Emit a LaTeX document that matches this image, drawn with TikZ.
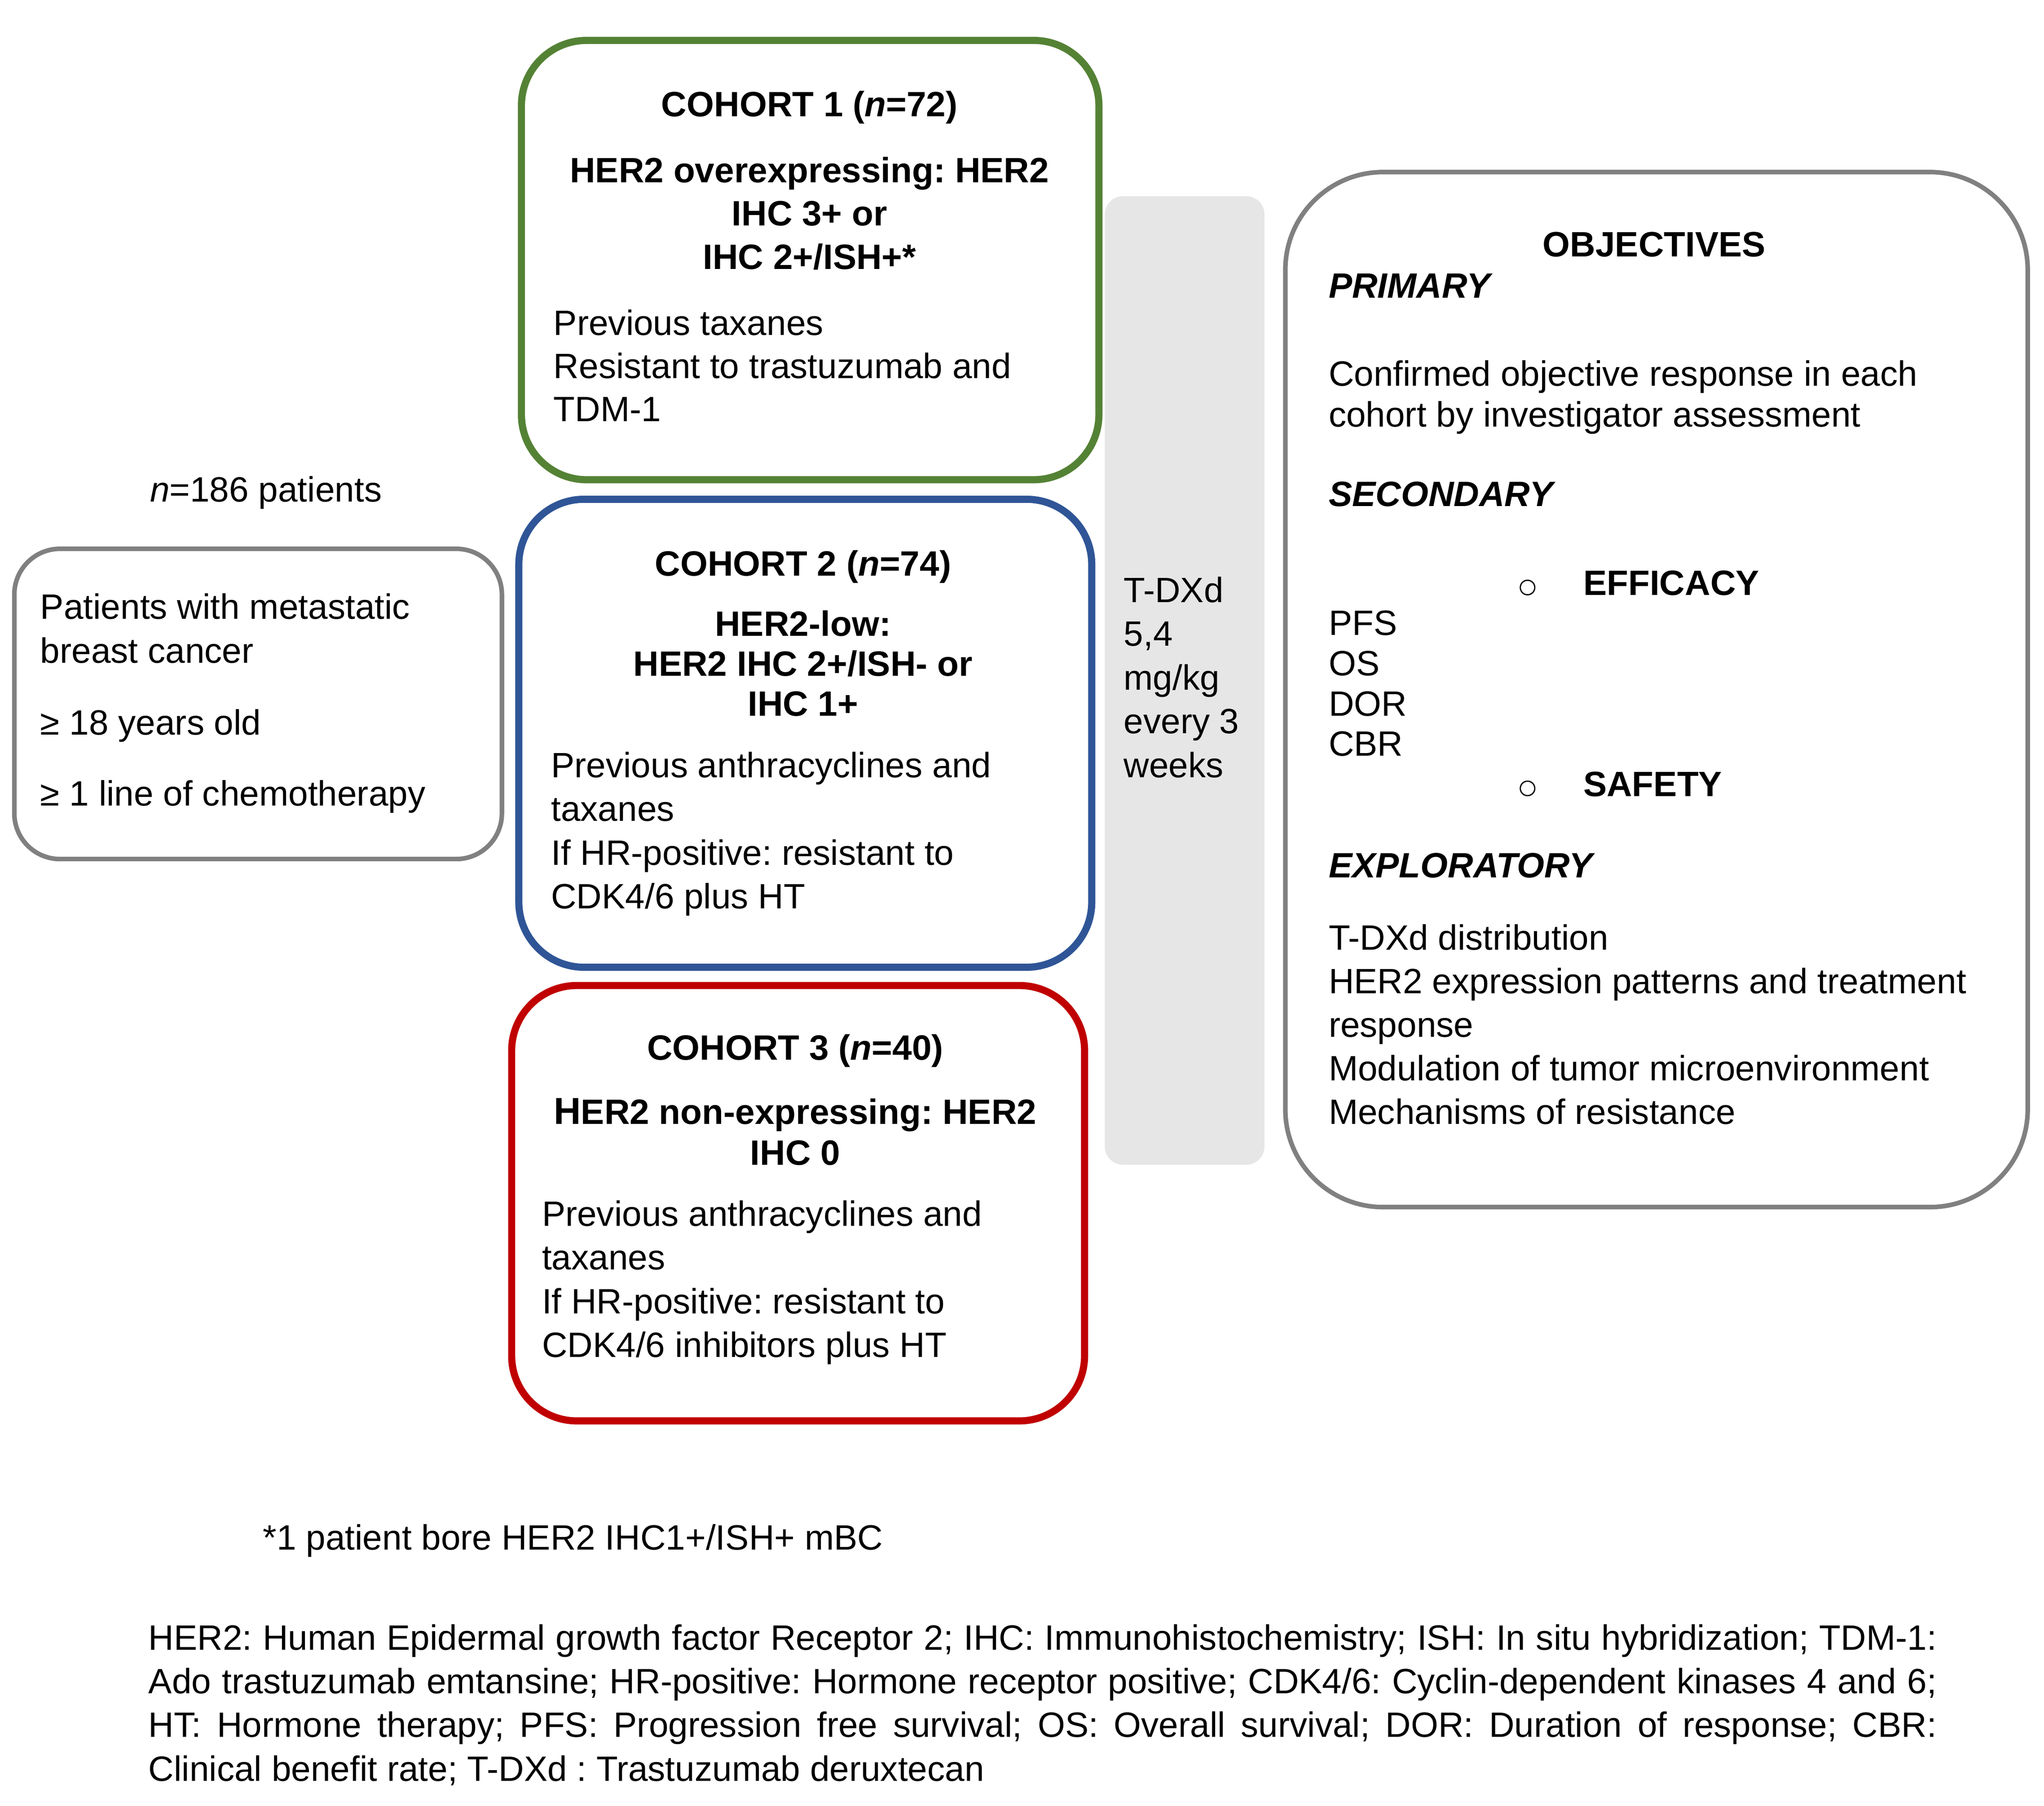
\documentclass[tikz,border=0pt]{standalone}
\usepackage{fontspec}
\setmainfont{Liberation Sans}
\frenchspacing
\definecolor{cgreen}{HTML}{548235}
\definecolor{cblue}{HTML}{2F5597}
\definecolor{cred}{HTML}{C00000}
\definecolor{cgray}{HTML}{808080}
\definecolor{cbar}{HTML}{E6E6E6}
\newcommand\fsz{\fontsize{19.2pt}{23.8pt}\selectfont}
\tikzset{
  txt/.style={inner sep=0pt, font=\fsz},
  lt/.style={txt, anchor=base west},
  ct/.style={txt, anchor=base, font=\fsz\bfseries},
  cohortbox/.style={rounded corners=12.5mm, line width=3.9pt},
  graybox/.style={draw=cgray, line width=2.5pt},
  bullet/.style={circle, draw=black, line width=0.24mm, minimum size=2.78mm, inner sep=0pt},
}
\begin{document}
\begin{tikzpicture}[x=0.25mm, y=-0.25mm]
\useasboundingbox (0,0) rectangle (1568,1385.4);
\fill[white] (0,0) rectangle (1568,1385.4);

% boxes
\draw[graybox, rounded corners=8.75mm] (11,421) rectangle (385,659);
\draw[cohortbox, draw=cgreen] (400,31) rectangle (843,368);
\draw[cohortbox, draw=cblue] (398,383) rectangle (837.5,742);
\draw[cohortbox, draw=cred] (392.5,756) rectangle (832,1090);
\fill[cbar, rounded corners=3.5mm] (847.5,150.5) rectangle (970,893.5);
\draw[graybox, rounded corners=18.75mm] (986,132) rectangle (1555.5,926);

% left
\node[txt, anchor=base] (npat) at (204,384.8) {{\itshape n}=186 patients};
\foreach \t/\yy [count=\i] in {Patients with metastatic/474.7, breast cancer/508.5, ≥ 18 years old/563.6, ≥ 1 line of chemotherapy/618.2}
  \node[lt] (pl\i) at (30.7,\yy) {\t};

% cohort 1
\node[ct] (c1h) at (621,89.4) {COHORT 1 ({\itshape n}=72)};
\foreach \t [count=\i from 0] in {HER2 overexpressing: HER2, IHC 3+ or, IHC 2+/ISH+*}
  \node[ct] (c1s\i) at (621,139.9+33.25*\i) {\t};
\foreach \t [count=\i from 0] in {Previous taxanes, Resistant to trastuzumab and, TDM-1}
  \node[lt] (c1b\i) at (424.4,257.2+33.1*\i) {\t};

% cohort 2
\node[ct] (c2h) at (616,441.8) {COHORT 2 ({\itshape n}=74)};
\foreach \t [count=\i from 0] in {HER2-low:, HER2 IHC 2+/ISH- or, IHC 1+}
  \node[ct] (c2s\i) at (616,488+30.7*\i) {\t};
\foreach \t [count=\i from 0] in {Previous anthracyclines and, taxanes, If HR-positive: resistant to, CDK4/6 plus HT}
  \node[lt] (c2b\i) at (422.5,596.5+33.5*\i) {\t};

% cohort 3
\node[ct] (c3h) at (610,813) {COHORT 3 ({\itshape n}=40)};
\node[ct] (c3s0) at (610,862.3) {{\fontsize{20.5pt}{23.8pt}\selectfont H}ER2 non-expressing: HER2};
\node[ct] (c3s1) at (610,893.7) {IHC 0};
\foreach \t [count=\i from 0] in {Previous anthracyclines and, taxanes, If HR-positive: resistant to, CDK4/6 inhibitors plus HT}
  \node[lt] (c3b\i) at (415.5,940.6+33.5*\i) {\t};

% treatment bar
\foreach \t [count=\i from 0] in {T-DXd, {5,4}, mg/kg, every 3, weeks}
  \node[lt] (tb\i) at (861.8,462+33.6*\i) {\t};

% objectives
\node[ct] (obj) at (1269,197) {OBJECTIVES};
\node[lt, font=\fsz\bfseries\itshape] (prim) at (1019,228.7) {PRIMARY};
\node[lt] (pr1) at (1019,296) {Confirmed objective response in each};
\node[lt] (pr2) at (1019,327.3) {cohort by investigator assessment};
\node[lt, font=\fsz\bfseries\itshape] (sec) at (1019,388.5) {SECONDARY};
\node[bullet] (bu1) at (1171.8,450.7) {};
\node[lt, font=\fsz\bfseries] (eff) at (1214.3,456.7) {EFFICACY};
\foreach \t [count=\i from 0] in {PFS, OS, DOR, CBR}
  \node[lt] (sm\i) at (1019,487.3+30.9*\i) {\t};
\node[bullet] (bu2) at (1171.8,604.8) {};
\node[lt, font=\fsz\bfseries] (saf) at (1214.3,610.8) {SAFETY};
\node[lt, font=\fsz\bfseries\itshape] (expl) at (1019,673.3) {EXPLORATORY};
\foreach \t [count=\i from 0] in {T-DXd distribution, HER2 expression patterns and treatment, response, Modulation of tumor microenvironment, Mechanisms of resistance}
  \node[lt] (ex\i) at (1019,728.8+33.4*\i) {\t};

% footnotes
\node[lt] (fn) at (201.5,1189) {*1 patient bore HER2 IHC1+/ISH+ mBC};
\node[lt] (ab1) at (113.7,1265.6) {\makebox[342.95mm][s]{HER2: Human Epidermal growth factor Receptor 2; IHC: Immunohistochemistry; ISH: In situ hybridization; TDM-1:}};
\node[lt] (ab2) at (113.7,1299.2) {\makebox[342.95mm][s]{Ado trastuzumab emtansine; HR-positive: Hormone receptor positive; CDK4/6: Cyclin-dependent kinases 4 and 6;}};
\node[lt] (ab3) at (113.7,1332.6) {\makebox[342.95mm][s]{HT: Hormone therapy; PFS: Progression free survival; OS: Overall survival; DOR: Duration of response; CBR:}};
\node[lt] (ab4) at (113.7,1366.2) {Clinical benefit rate; T-DXd : Trastuzumab deruxtecan};
\end{tikzpicture}
\end{document}
